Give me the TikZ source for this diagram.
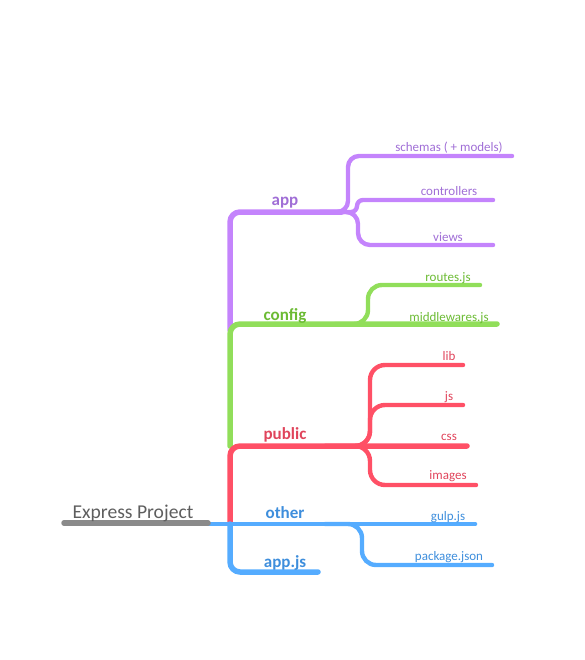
\documentclass[tikz,border=0pt]{standalone}
\usepackage{fontspec}
\setmainfont{Carlito}
\definecolor{purL}{HTML}{C484FC}
\definecolor{purT}{HTML}{A06ED6}
\definecolor{grnL}{HTML}{91DE5A}
\definecolor{grnT}{HTML}{6CBB34}
\definecolor{redL}{HTML}{FF5066}
\definecolor{redT}{HTML}{E0445B}
\definecolor{bluL}{HTML}{55ACFF}
\definecolor{bluT}{HTML}{3E8EDC}
\definecolor{gryL}{HTML}{8A8A8A}
\definecolor{gryT}{HTML}{5E5E5E}
\begin{document}
\begin{tikzpicture}[x=1pt,y=-1pt,line cap=round,line join=round,
  trunkline/.style={line width=5.5pt,rounded corners=10pt},
  leafline/.style={line width=4.4pt,rounded corners=#1},
  leafline/.default=13pt,
  lvlone/.style={font=\fontsize{17}{17}\selectfont\bfseries,inner sep=0pt,anchor=base},
  leaflbl/.style={font=\fontsize{13}{13}\selectfont,inner sep=0pt,anchor=base},
  rootlbl/.style={font=\fontsize{19.6}{19.6}\selectfont,inner sep=0pt,anchor=base,text=gryT}]
\useasboundingbox (0,0) rectangle (584,660);

% coordinates
\coordinate (rootS) at (64,523);
\coordinate (rootE) at (208,523);
\coordinate (trunkP) at (230,330);
\coordinate (trunkG) at (230,446);
\coordinate (trunkR) at (230,524);
\coordinate (appF) at (342,212);
\coordinate (appB) at (320,212);
\coordinate (schV) at (348,156);
\coordinate (schE) at (512,156);
\coordinate (conV) at (357,200);
\coordinate (conE) at (493,200);
\coordinate (vieV) at (358,245);
\coordinate (vieE) at (493,245);
\coordinate (cfgE) at (497,324);
\coordinate (cfgB) at (335,324);
\coordinate (rouV) at (368,285);
\coordinate (rouE) at (480,285);
\coordinate (pubE) at (467,446);
\coordinate (pubB) at (325,446);
\coordinate (libV) at (370,365);
\coordinate (libE) at (463,365);
\coordinate (jsV) at (370,405);
\coordinate (jsE) at (463,405);
\coordinate (imgV) at (370,485);
\coordinate (imgE) at (476,485);
\coordinate (othS) at (208,524);
\coordinate (othE) at (475,524);
\coordinate (othB) at (325,524);
\coordinate (pkgV) at (362,565);
\coordinate (pkgE) at (492,565);
\coordinate (ajsE) at (318,572);

% purple
\draw[purL,trunkline] (trunkP) |- (appF);
\draw[purL,leafline=11pt] (appB) -| (schV) -- (schE);
\draw[purL,leafline=6pt] (appB) -| (conV) -- (conE);
\draw[purL,leafline=12pt] (appB) -| (vieV) -- (vieE);
% green
\draw[grnL,trunkline] (trunkG) |- (cfgE);
\draw[grnL,leafline=14pt] (cfgB) -| (rouV) -- (rouE);
% red
\draw[redL,trunkline] (trunkR) |- (pubE);
\draw[redL,leafline=15pt] (pubB) -| (libV) -- (libE);
\draw[redL,leafline=15pt] (pubB) -| (jsV) -- (jsE);
\draw[redL,leafline=15pt] (pubB) -| (imgV) -- (imgE);
% blue
\draw[bluL,line width=4.6pt] (othS) -- (othE);
\draw[bluL,leafline=14pt] (othB) -| (pkgV) -- (pkgE);
\draw[bluL,trunkline] (trunkR) |- (ajsE);
% gray
\draw[gryL,line width=5.5pt] (rootS) -- (rootE);

% labels
\node[rootlbl] (root) at (133,518) {Express Project};
\node[lvlone,text=purT] (app) at (285,206) {app};
\node[lvlone,text=grnT] (config) at (285,320) {config};
\node[lvlone,text=redT] (public) at (285,439) {public};
\node[lvlone,text=bluT] (other) at (285,518) {other};
\node[lvlone,text=bluT] (appjs) at (285,567) {app.js};

\node[leaflbl,text=purT] (sch) at (449,152) {schemas ( + models)};
\node[leaflbl,text=purT] (con) at (449,196) {controllers};
\node[leaflbl,text=purT] (vie) at (448,241) {views};
\node[leaflbl,text=grnT] (rou) at (448,281) {routes.js};
\node[leaflbl,text=grnT] (mid) at (449,321) {middlewares.js};
\node[leaflbl,text=redT] (lib) at (449,360) {lib};
\node[leaflbl,text=redT] (js) at (449,400) {js};
\node[leaflbl,text=redT] (css) at (449,440) {css};
\node[leaflbl,text=redT] (img) at (448,479) {images};
\node[leaflbl,text=bluT] (gulp) at (448,520) {gulp.js};
\node[leaflbl,text=bluT] (pkg) at (449,560) {package.json};
\end{tikzpicture}
\end{document}
